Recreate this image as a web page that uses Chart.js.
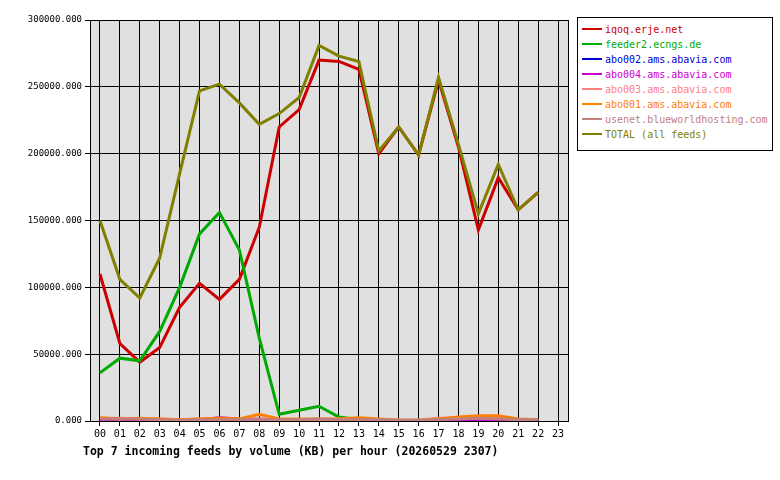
<!DOCTYPE html>
<html>
<head>
<meta charset="utf-8">
<script src="https://cdn.jsdelivr.net/npm/chart.js@4"></script>
<style>
body { margin: 0; background: #fff; }
#wrap { position: relative; width: 780px; height: 480px; }
#legend { position: absolute; left: 577px; top: 17px; width: 196px; height: 134px; border: 1px solid #000; box-sizing: border-box;
  font: 10px "DejaVu Sans Mono", monospace; padding: 4px 0 0 4px; background: #fff; }
#legend div { height: 15px; line-height: 15px; white-space: nowrap; }
#legend span.sw { display: inline-block; width: 20px; height: 2px; vertical-align: middle; margin-right: 3px; position: relative; top: -1px; }
#title { position: absolute; left: 83px; top: 444px; font: bold 11.5px "DejaVu Sans Mono", monospace; }
</style>
</head>
<body>
<div id="wrap">
<canvas id="c" width="780" height="480"></canvas>
<div id="legend"></div>
<div id="title">Top 7 incoming feeds by volume (KB) per hour (20260529 2307)</div>
</div>
<script>
const hours = ['00','01','02','03','04','05','06','07','08','09','10','11','12','13','14','15','16','17','18','19','20','21','22','23'];
const feedNames = ['iqoq.erje.net','feeder2.ecngs.de','abo002.ams.abavia.com','abo004.ams.abavia.com','abo003.ams.abavia.com','abo001.ams.abavia.com','usenet.blueworldhosting.com','TOTAL (all feeds)'];
const feedColors = ['#cc0000','#00aa00','#0000cc','#cc00cc','#ff8080','#ff8000','#c08080','#808000'];
const iqoq = [110000,58000,44000,55000,85000,103000,91000,106000,145000,220000,233000,270000,269000,263000,200000,220000,199000,255000,205000,143000,182000,158000,171000];
const feeder2 = [36000,47000,45000,67000,100000,140000,156000,128000,62000,5000,8000,11000,3000,1000,0,0,0,0,0,0,0,0,0];
const abo002 = [500,500,500,500,500,500,500,500,500,500,500,500,500,500,500,0,0,500,500,500,500,500,500];
const abo004 = [1000,1000,1000,1000,500,1000,2500,1500,1000,1000,1000,1000,1000,1000,500,0,0,500,1000,1000,1000,500,500];
const abo003 = [2000,2000,1500,1500,1000,1500,1500,1500,1500,1000,1000,1000,1500,1500,1000,500,500,2000,2000,2000,2000,1000,1000];
const abo001 = [2500,1500,2000,1500,1000,1500,2000,1500,5000,1500,1500,1500,1500,2500,1500,500,500,1500,3000,4000,4000,1500,1000];
const usenet = [1500,1500,1500,1000,500,1000,1000,1000,1500,1000,1000,1500,1000,1000,1000,500,500,1000,1500,2000,1500,1000,1000];
const total = [150000,106000,92000,122000,185000,247000,252000,238000,222000,230000,242000,281000,273000,269000,202000,220000,199000,257000,207000,155000,192000,158000,171000];
const series = [iqoq, feeder2, abo002, abo004, abo003, abo001, usenet, total];

document.getElementById('legend').innerHTML = feedNames.map((n, i) =>
  `<div style="color:${feedColors[i]}"><span class="sw" style="background:${feedColors[i]}"></span>${n}</div>`).join('');

const plotBg = {
  id: 'plotBg',
  beforeDraw(chart) {
    const a = chart.chartArea, ctx = chart.ctx;
    ctx.save();
    ctx.fillStyle = '#e0e0e0';
    ctx.fillRect(a.left, a.top, a.right - a.left, a.bottom - a.top);
    ctx.restore();
  },
  afterDatasetsDraw(chart) {
    const a = chart.chartArea, ctx = chart.ctx;
    ctx.save();
    ctx.strokeStyle = '#000';
    ctx.lineWidth = 1;
    ctx.strokeRect(a.left + 0.5, a.top + 0.5, a.right - a.left, a.bottom - a.top);
    ctx.restore();
  }
};

new Chart(document.getElementById('c'), {
  type: 'line',
  data: {
    labels: hours,
    datasets: series.map((d, i) => ({
      label: feedNames[i], data: d, borderColor: feedColors[i], borderWidth: 3,
      pointRadius: 0, tension: 0, fill: false
    })).reverse()
  },
  options: {
    responsive: false, animation: false,
    layout: { padding: { top: 20, right: 212, bottom: 38, left: 4 } },
    plugins: { legend: { display: false }, tooltip: { enabled: false } },
    scales: {
      x: {
        offset: true,
        grid: { offset: false, color: '#000', drawTicks: true, tickLength: 5 },
        border: { display: false },
        ticks: { color: '#000', font: { family: 'DejaVu Sans Mono', size: 10 }, maxRotation: 0, autoSkip: false, padding: 2 }
      },
      y: {
        min: 0, max: 300000,
        grid: { color: '#000', tickLength: 5 },
        border: { display: false },
        afterFit(s) { s.width = 86; },
        ticks: { stepSize: 50000, color: '#000', font: { family: 'DejaVu Sans Mono', size: 9 },
          callback: v => v.toFixed(3) }
      }
    }
  },
  plugins: [plotBg]
});
</script>
</body>
</html>
